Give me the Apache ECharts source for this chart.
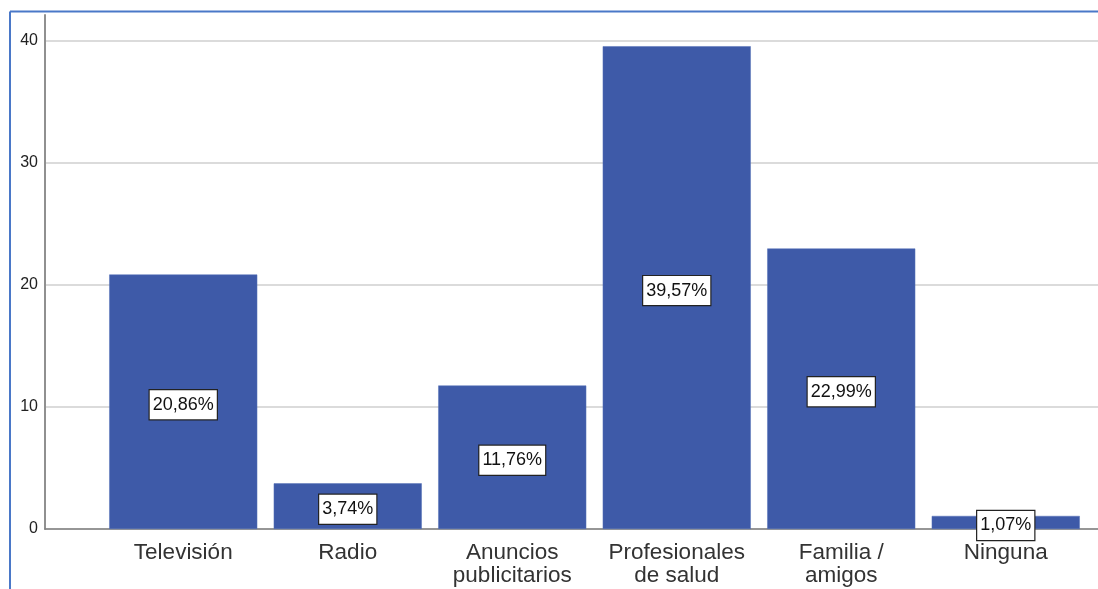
<!DOCTYPE html>
<html>
<head>
<meta charset="utf-8">
<script src="https://cdn.jsdelivr.net/npm/echarts@6/dist/echarts.min.js"></script>
<style>
html,body{margin:0;padding:0;background:#fff;}
#c{width:1098px;height:589px;}
</style>
</head>
<body>
<div id="c"></div>
<script>
var categories = ['Televisión', 'Radio', 'Anuncios\npublicitarios', 'Profesionales\nde salud', 'Familia /\namigos', 'Ninguna'];
var values = [20.86, 3.74, 11.76, 39.57, 22.99, 1.07];
var labels = ['20,86%', '3,74%', '11,76%', '39,57%', '22,99%', '1,07%'];
var yTicks = [0, 10, 20, 30, 40];

var YMAX = 42.13;
var FONT = '"Liberation Sans", Arial, sans-serif';
var NARROW = '"Liberation Sans Narrow", "Arial Narrow", sans-serif';
var chart = echarts.init(document.getElementById('c'), null, {renderer: 'canvas'});
var grid = '#cfcfcf';
chart.setOption({
  animation: false,
  backgroundColor: '#ffffff',
  graphic: [
    {type: 'line', shape: {x1: 10, y1: 11.5, x2: 1098, y2: 11.5}, style: {stroke: '#4a78c8', lineWidth: 2}, z: 100},
    {type: 'line', shape: {x1: 10, y1: 11.5, x2: 10, y2: 589}, style: {stroke: '#4a78c8', lineWidth: 2}, z: 100}
  ],
  grid: [
    {left: 45, right: 0, top: 15, bottom: 60, containLabel: false},
    {left: 101, right: 10, top: 15, bottom: 60, containLabel: false}
  ],
  xAxis: [
    {type: 'value', gridIndex: 0, min: 0, max: 1, axisLabel: {show: false}, axisTick: {show: false}, splitLine: {show: false},
     axisLine: {show: true, lineStyle: {color: '#808080', width: 1.5}}},
    {type: 'category', gridIndex: 1, data: categories, axisTick: {show: false}, axisLine: {show: false},
     axisLabel: {fontFamily: NARROW, fontSize: 22.5, color: '#333', lineHeight: 23, margin: 12, interval: 0}}
  ],
  yAxis: [
    {type: 'value', gridIndex: 0, min: 0, max: YMAX, interval: 10,
     axisLine: {show: true, lineStyle: {color: '#909090', width: 2}},
     axisTick: {show: false},
     axisLabel: {showMaxLabel: false, fontFamily: NARROW, fontSize: 16, color: '#222', margin: 7,
       formatter: function (v) { return yTicks.indexOf(v) >= 0 ? String(v) : ''; }},
     splitLine: {show: true, lineStyle: {color: [grid, grid, grid, grid, grid, 'rgba(0,0,0,0)'], width: 1.5}}},
    {type: 'value', gridIndex: 1, min: 0, max: YMAX, show: false, splitLine: {show: false}}
  ],
  series: [{
    type: 'bar',
    xAxisIndex: 1, yAxisIndex: 1,
    data: values,
    barWidth: '90%',
    itemStyle: {color: '#3e5aa8', borderColor: '#5470b8', borderWidth: 0.5},
    label: {
      show: true, position: 'inside', offset: [0, 3],
      formatter: function (p) { return labels[p.dataIndex]; },
      fontFamily: FONT, fontSize: 18, color: '#111',
      backgroundColor: '#ffffff', borderColor: '#222', borderWidth: 1.2,
      padding: [6, 3, 5, 3]
    }
  }]
});
</script>
</body>
</html>
